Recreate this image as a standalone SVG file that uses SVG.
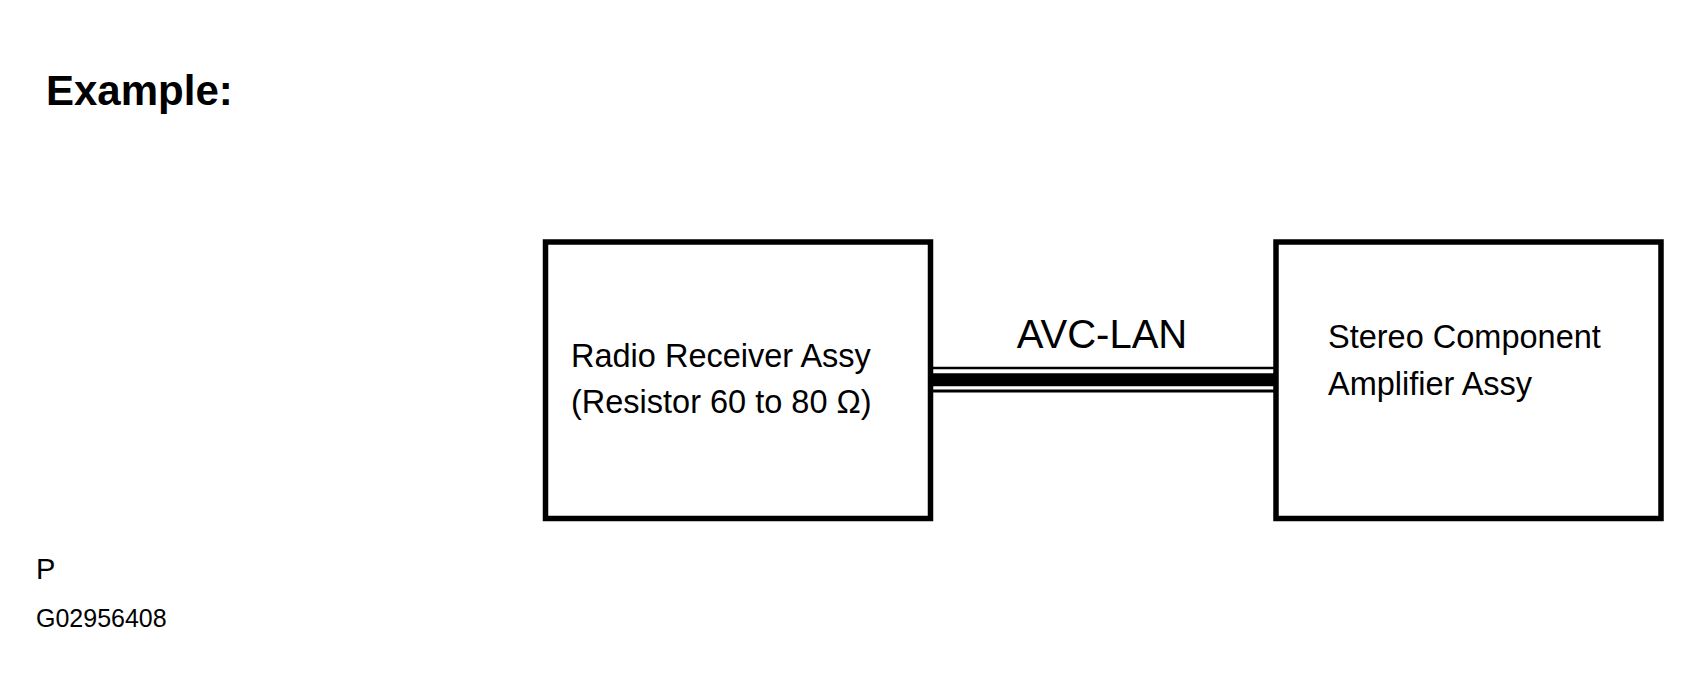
<svg xmlns="http://www.w3.org/2000/svg" width="1701" height="700" viewBox="0 0 1701 700">
<style>
text { font-family: "Liberation Sans", Arial, sans-serif; fill: #000; }
.box { fill: #fff; stroke: #000; stroke-width: 5.5; }
.lbl { font-size: 32.5px; }
.wire { stroke: #000; fill: none; }
</style>
<rect width="1701" height="700" fill="#fff"/>
<text x="46" y="105" font-size="42" font-weight="bold">Example:</text>
<g id="connectors">
  <line class="wire" x1="930" y1="368" x2="1276" y2="368" stroke-width="2.6"/>
  <line class="wire" x1="930" y1="379.7" x2="1276" y2="379.7" stroke-width="13"/>
  <line class="wire" x1="930" y1="391" x2="1276" y2="391" stroke-width="3.2"/>
  <text x="1102" y="348" font-size="40" text-anchor="middle">AVC-LAN</text>
</g>
<g id="radio-receiver">
  <rect class="box" x="545.5" y="242" width="385" height="276.5"/>
  <text class="lbl" x="571" y="367">Radio Receiver Assy</text>
  <text class="lbl" x="571" y="413">(Resistor 60 to 80 Ω)</text>
</g>
<g id="stereo-amplifier">
  <rect class="box" x="1276" y="242" width="385" height="276.5"/>
  <text class="lbl" x="1328" y="348">Stereo Component</text>
  <text class="lbl" x="1328" y="395">Amplifier Assy</text>
</g>
<text x="36" y="579" font-size="29">P</text>
<text x="36" y="627" font-size="25">G02956408</text>
</svg>
